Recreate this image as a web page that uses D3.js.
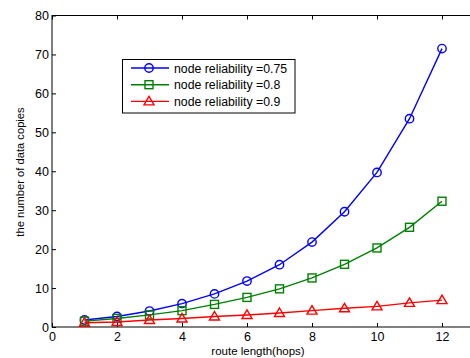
<!DOCTYPE html>
<html>
<head>
<meta charset="utf-8">
<script src="https://cdn.jsdelivr.net/npm/d3@7"></script>
<style>
  body { margin: 0; background: #fff; }
  svg { display: block; font-family: "Liberation Sans", Arial, sans-serif; }
</style>
</head>
<body>
<div id="chart"></div>
<script>
// route length (hops) and the number of data copies per reliability
const hops = [1, 2, 3, 4, 5, 6, 7, 8, 9, 10, 11, 12];
const copies075 = [1.8, 2.7, 4.1, 6.0, 8.5, 11.8, 16.0, 21.8, 29.6, 39.7, 53.5, 71.5];
const copies08 = [1.5, 2.2, 3.1, 4.2, 5.8, 7.6, 9.8, 12.6, 16.1, 20.3, 25.6, 32.3];
const copies09 = [1.1, 1.3, 1.8, 2.2, 2.7, 3.1, 3.6, 4.2, 4.8, 5.3, 6.2, 6.9];
const xTicks = [0, 2, 4, 6, 8, 10, 12];
const yTicks = [0, 10, 20, 30, 40, 50, 60, 70, 80];

const series = [
  { name: 'node reliability =0.75', values: copies075, color: '#0000ff', marker: 'circle' },
  { name: 'node reliability =0.8', values: copies08, color: '#008000', marker: 'square' },
  { name: 'node reliability =0.9', values: copies09, color: '#ff0000', marker: 'triangle' },
];

const width = 470, height = 358;
const plotLeft = 52, plotTop = 15.5, plotW = 455, plotBottom = 327;

const x = d3.scaleLinear().domain([0, 14]).range([plotLeft, plotLeft + plotW]);
const y = d3.scaleLinear().domain([0, 80]).range([plotBottom, plotTop]);

const svg = d3.select('#chart').append('svg')
  .attr('width', width).attr('height', height);

// axes box
svg.append('rect')
  .attr('x', plotLeft).attr('y', plotTop).attr('width', plotW).attr('height', plotBottom - plotTop)
  .attr('fill', 'none').attr('stroke', '#000').attr('stroke-width', 1);

const styleAxis = (g) => {
  g.select('.domain').remove();
  g.selectAll('.tick line').attr('stroke', '#000');
  g.selectAll('.tick text').attr('fill', '#000').style('font-size', '12.5px');
};

svg.append('g').attr('transform', `translate(0,${plotBottom})`)
  .call(d3.axisBottom(x).tickValues(xTicks).tickSizeInner(-4).tickSizeOuter(0).tickPadding(5))
  .call(styleAxis);
svg.append('g').attr('transform', `translate(0,${plotTop})`)
  .call(d3.axisTop(x).tickValues(xTicks).tickSizeInner(-4).tickSizeOuter(0).tickFormat(''))
  .call(styleAxis);
svg.append('g').attr('transform', `translate(${plotLeft},0)`)
  .call(d3.axisLeft(y).tickValues(yTicks).tickSizeInner(-4).tickSizeOuter(0).tickPadding(3))
  .call(styleAxis);

svg.append('text')
  .attr('x', 258).attr('y', 355).attr('text-anchor', 'middle')
  .style('font-size', '11.5px').text('route length(hops)');
svg.append('text')
  .attr('transform', `translate(24,172) rotate(-90)`)
  .attr('text-anchor', 'middle')
  .style('font-size', '11.2px').text('the number of data copies');

function drawMarker(g, type, cx, cy, color) {
  if (type === 'circle') {
    g.append('circle').attr('cx', cx).attr('cy', cy).attr('r', 4.2)
      .attr('fill', 'none').attr('stroke', color).attr('stroke-width', 1.4);
  } else if (type === 'square') {
    g.append('rect').attr('x', cx - 4).attr('y', cy - 4).attr('width', 8).attr('height', 8)
      .attr('fill', 'none').attr('stroke', color).attr('stroke-width', 1.4);
  } else {
    g.append('path').attr('d', `M${cx},${cy - 5}L${cx + 5},${cy + 3.5}L${cx - 5},${cy + 3.5}Z`)
      .attr('fill', 'none').attr('stroke', color).attr('stroke-width', 1.4);
  }
}

const line = d3.line().x((d, i) => x(hops[i])).y((d) => y(d));

series.forEach((s) => {
  const g = svg.append('g');
  g.append('path').attr('d', line(s.values))
    .attr('fill', 'none').attr('stroke', s.color).attr('stroke-width', 1.4);
  s.values.forEach((v, i) => drawMarker(g, s.marker, x(hops[i]), y(v), s.color));
});

// legend
const lg = svg.append('g');
lg.append('rect').attr('x', 122.5).attr('y', 59.5).attr('width', 172.5).attr('height', 53.5)
  .attr('fill', '#fff').attr('stroke', '#000').attr('stroke-width', 1);
series.forEach((s, i) => {
  const cy = 68 + i * 16.7;
  lg.append('line').attr('x1', 131).attr('x2', 169).attr('y1', cy).attr('y2', cy)
    .attr('stroke', s.color).attr('stroke-width', 1.4);
  drawMarker(lg, s.marker, 149, cy, s.color);
  lg.append('text').attr('x', 174).attr('y', cy + 4.5)
    .style('font-size', '12.3px').text(s.name);
});
</script>
</body>
</html>
